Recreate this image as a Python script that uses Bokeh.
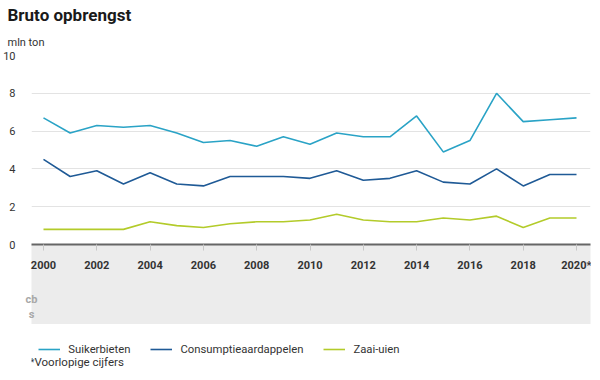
from bokeh.plotting import figure
from bokeh.layouts import column
from bokeh.models import (LinearAxis, FixedTicker, Legend, LegendItem, Title,
                          Label, Range1d, Grid, ColumnDataSource)
from bokeh.embed import file_html
from bokeh.resources import INLINE

years = list(range(2000, 2021))
suikerbieten = [6.7, 5.9, 6.3, 6.2, 6.3, 5.9, 5.4, 5.5, 5.2, 5.7, 5.3,
                5.9, 5.7, 5.7, 6.8, 4.9, 5.5, 8.0, 6.5, 6.6, 6.7]
consumptie = [4.5, 3.6, 3.9, 3.2, 3.8, 3.2, 3.1, 3.6, 3.6, 3.6, 3.5,
              3.9, 3.4, 3.5, 3.9, 3.3, 3.2, 4.0, 3.1, 3.7, 3.7]
zaaiuien = [0.8, 0.8, 0.8, 0.8, 1.2, 1.0, 0.9, 1.1, 1.2, 1.2, 1.3,
            1.6, 1.3, 1.2, 1.2, 1.4, 1.3, 1.5, 0.9, 1.4, 1.4]
series_names = ["Suikerbieten", "Consumptieaardappelen", "Zaai-uien"]
colors = ["#2aa3c6", "#1f5a96", "#b3cb2a"]
x_ticks = list(range(2000, 2021, 2))
x_tick_labels = {2020: "2020*"}
y_ticks = [0, 2, 4, 6, 8, 10]
title_text = "Bruto opbrengst"
unit_text = "mln ton"
footnote_text = "*Voorlopige cijfers"

FONT = "Roboto"
TXT = "#333333"


def blank(fig):
    fig.center = [c for c in fig.center if not isinstance(c, Grid)]


# main chart
p = figure(frame_width=559, frame_height=189, x_range=Range1d(1999.55, 2020.525),
           y_range=Range1d(0, 10), output_backend="svg", toolbar_location=None,
           x_axis_location=None, y_axis_location=None,
           min_border_left=24, min_border_right=1, min_border_top=52,
           min_border_bottom=0, outline_line_color=None)
blank(p)

grid = Grid(dimension=1, ticker=FixedTicker(ticks=y_ticks),
            grid_line_color="#e3e3e3", grid_line_width=1)
p.add_layout(grid)

yaxis = LinearAxis(ticker=FixedTicker(ticks=y_ticks), axis_line_color=None,
                   major_tick_line_color=None, minor_tick_line_color=None,
                   major_label_standoff=10, major_label_text_font=FONT,
                   major_label_text_font_size="11px",
                   major_label_text_color=TXT)
p.add_layout(yaxis, "left")

xaxis = LinearAxis(ticker=FixedTicker(ticks=x_ticks),
                   major_label_overrides=x_tick_labels,
                   axis_line_color="#666666", axis_line_width=2,
                   major_tick_in=0, major_tick_out=6,
                   major_tick_line_color="#c8c8c8", minor_tick_line_color=None,
                   major_label_standoff=8, major_label_text_font=FONT,
                   major_label_text_font_size="11px",
                   major_label_text_font_style="bold",
                   major_label_text_color=TXT,
                   axis_label="cb\ns", axis_label_standoff=18,
                   axis_label_text_font=FONT, axis_label_text_font_size="11px",
                   axis_label_text_font_style="bold",
                   axis_label_text_color="#a8a8a8",
                   axis_label_align="start",
                   background_fill_color="#ececec")
p.add_layout(xaxis, "below")

for vals, col in zip([suikerbieten, consumptie, zaaiuien], colors):
    src = ColumnDataSource(dict(x=years, y=vals))
    p.line("x", "y", source=src, line_color=col, line_width=1.6)

sub = Title(text=unit_text, align="left", text_font=FONT, text_font_size="11px",
            text_font_style="normal", text_color=TXT, offset=-24, standoff=14)
p.add_layout(sub, "above")
title = Title(text=title_text, align="left", text_font=FONT,
              text_font_size="17px", text_font_style="bold", text_color="#1a1a1a",
              offset=-24, standoff=4)
p.add_layout(title, "above")

menu = Label(x=566, y=8, x_units="canvas", y_units="canvas", text="≡",
             text_baseline="top", text_font="DejaVu Sans", level="overlay",
             text_font_style="bold", text_font_size="21px", text_color="#555555")
p.add_layout(menu)

# legend + footnote strip
q = figure(frame_width=559, frame_height=44, x_range=Range1d(0, 1),
           y_range=Range1d(100, 101), output_backend="svg",
           toolbar_location=None, x_axis_location=None, y_axis_location=None,
           min_border_left=24, min_border_right=1, min_border_top=0,
           min_border_bottom=0, outline_line_color=None)
blank(q)
items = []
for name, vals, col in zip(series_names, [suikerbieten, consumptie, zaaiuien], colors):
    src = ColumnDataSource(dict(x=years, y=vals))
    r = q.line("x", "y", source=src, line_color=col, line_width=1.6, visible=False)
    items.append(LegendItem(label=name, renderers=[r]))

legend = Legend(items=items, orientation="horizontal", location=(30, 12),
                label_text_font=FONT, label_text_font_size="11.3px",
                label_text_color=TXT, glyph_width=22, glyph_height=14,
                label_standoff=8, spacing=20, padding=0, margin=0,
                border_line_color=None, background_fill_alpha=0,
                inactive_fill_alpha=0)
q.add_layout(legend)

q.add_layout(Label(x=0, y=100, x_offset=-2, y_offset=0, text=footnote_text,
                   text_font=FONT, text_font_size="11.5px", text_color=TXT,
                   text_baseline="bottom"))

layout = column(p, q, spacing=0)
open("out.html", "w").write(file_html(layout, INLINE))
